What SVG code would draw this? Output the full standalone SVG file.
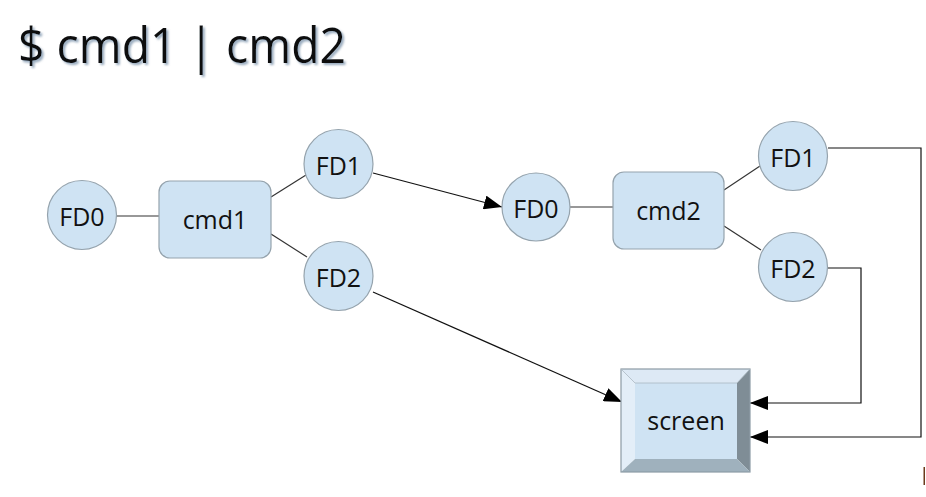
<svg xmlns="http://www.w3.org/2000/svg" width="926" height="497" viewBox="0 0 926 497">
<style>
.fd{fill:#cfe3f3;stroke:#95a3ad;stroke-width:1.2}
.cmd{fill:#cfe3f3;stroke:#95a3ad;stroke-width:1.2}
.lbl{font-family:"Open Sans","Noto Sans",sans-serif;font-size:25px;fill:#111;text-anchor:middle}
.ln{stroke:#333;stroke-width:1.2;fill:none}
.ar{stroke:#111;stroke-width:1.2;fill:none;marker-end:url(#ah)}
</style>
<defs>
<marker id="ah" markerUnits="userSpaceOnUse" markerWidth="20" markerHeight="14" refX="18" refY="7" orient="auto">
<path d="M0,0 L18,7 L0,14 Z" fill="#000"/>
</marker>
<filter id="sh" x="-5%" y="-20%" width="115%" height="150%">
<feDropShadow dx="2" dy="2" stdDeviation="1" flood-color="#7f95ad" flood-opacity="0.8"/>
</filter>
</defs>
<rect width="926" height="497" fill="#fff"/>
<text x="18" y="63" font-family="'Open Sans','Noto Sans',sans-serif" font-size="50" fill="#111" filter="url(#sh)" textLength="328" lengthAdjust="spacingAndGlyphs">$ cmd1 | cmd2</text>
<g id="connectors">
<line class="ln" x1="116" y1="216" x2="159" y2="216"/>
<line class="ln" x1="271" y1="197" x2="306" y2="175"/>
<line class="ln" x1="271" y1="234" x2="307" y2="257"/>
<line class="ln" x1="570" y1="207" x2="613" y2="207"/>
<line class="ln" x1="724" y1="190" x2="760" y2="166"/>
<line class="ln" x1="724" y1="226" x2="761" y2="250"/>
<path class="ar" d="M373,173 L502,207"/>
<path class="ar" d="M373,292 L622,402"/>
<path class="ar" d="M828,268 L861,268 L861,403 L750,403"/>
<path class="ar" d="M828,148 L921,148 L921,437 L750,437"/>
</g>
<g id="fd0a"><circle class="fd" cx="82" cy="215" r="34.5"/><text class="lbl" x="82" y="226">FD0</text></g>
<g id="cmd1"><rect class="cmd" x="159" y="181" width="112" height="77" rx="11"/><text class="lbl" x="215" y="229">cmd1</text></g>
<g id="fd1a"><circle class="fd" cx="338.5" cy="164" r="34.5"/><text class="lbl" x="338.5" y="175">FD1</text></g>
<g id="fd2a"><circle class="fd" cx="338.5" cy="276" r="34.5"/><text class="lbl" x="338.5" y="287">FD2</text></g>
<g id="fd0b"><circle class="fd" cx="536" cy="207" r="34"/><text class="lbl" x="536" y="218">FD0</text></g>
<g id="cmd2"><rect class="cmd" x="613" y="172" width="111" height="77" rx="11"/><text class="lbl" x="668.5" y="220">cmd2</text></g>
<g id="fd1b"><circle class="fd" cx="793" cy="156" r="34.5"/><text class="lbl" x="793" y="167">FD1</text></g>
<g id="fd2b"><circle class="fd" cx="793" cy="267" r="34.5"/><text class="lbl" x="793" y="278">FD2</text></g>
<g id="screen">
<polygon points="621,369 750,369 737,383 635,383" fill="#dde9f5"/>
<polygon points="621,369 635,383 635,459 621,472" fill="#e3eef8"/>
<polygon points="750,369 750,472 737,459 737,383" fill="#7f8d96"/>
<polygon points="621,472 635,459 737,459 750,472" fill="#9fb1bd"/>
<rect x="635" y="383" width="102" height="76" fill="#cfe3f3"/>
<rect x="621" y="369" width="129" height="103" fill="none" stroke="#8d9ba5" stroke-width="1.2"/>
<polyline points="621,369 635,383 737,383 750,369" fill="none" stroke="#a9b8c2" stroke-width="0.8"/>
<text class="lbl" x="686" y="430">screen</text>
</g>
<rect x="923.5" y="467" width="1.5" height="18" fill="#6b3a1c"/>
</svg>
